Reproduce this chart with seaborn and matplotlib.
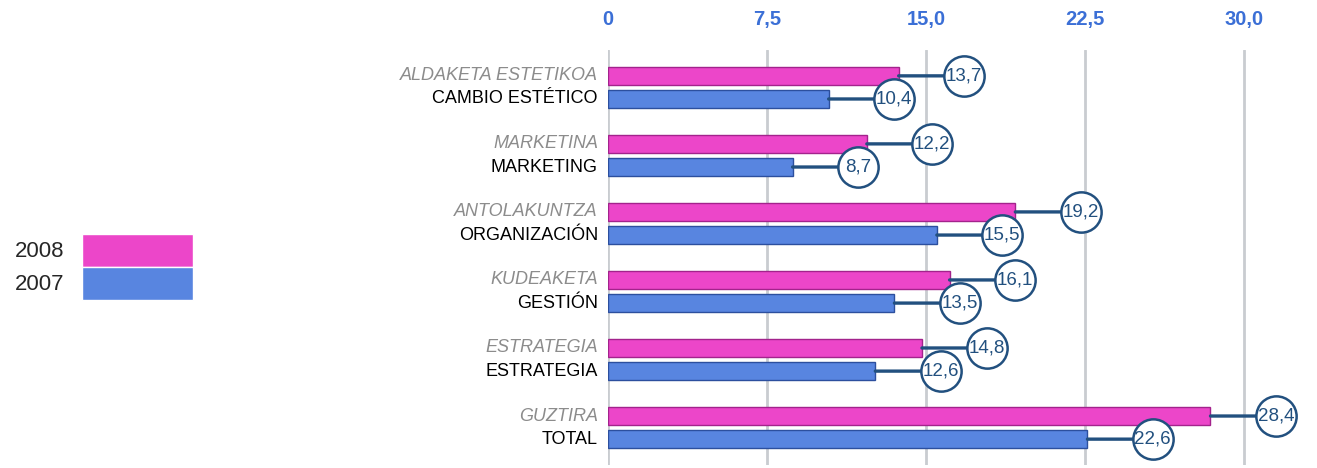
import matplotlib
matplotlib.use("Agg")
import matplotlib.pyplot as plt
import matplotlib.transforms as mtransforms
import seaborn as sns
import pandas as pd

# Data
labels_eu = ['ALDAKETA ESTETIKOA', 'MARKETINA', 'ANTOLAKUNTZA', 'KUDEAKETA', 'ESTRATEGIA', 'GUZTIRA']
labels_es = ['CAMBIO ESTÉTICO', 'MARKETING', 'ORGANIZACIÓN', 'GESTIÓN', 'ESTRATEGIA', 'TOTAL']
values_2008 = [13.7, 12.2, 19.2, 16.1, 14.8, 28.4]
values_2007 = [10.4, 8.7, 15.5, 13.5, 12.6, 22.6]
years = ['2008', '2007']
ticks = [0, 7.5, 15.0, 22.5, 30.0]
tick_labels = ['0', '7,5', '15,0', '22,5', '30,0']

colors = {'2008': '#ec46c9', '2007': '#5885e0'}
edges = {'2008': '#a3238c', '2007': '#2c4f9e'}
navy = '#22507f'

df = pd.DataFrame({
    'cat': labels_es * 2,
    'year': ['2008'] * 6 + ['2007'] * 6,
    'value': values_2008 + values_2007,
})

sns.set_style('white')
plt.rcParams['font.family'] = ['Liberation Sans', 'DejaVu Sans']
fig = plt.figure(figsize=(13.17, 4.68), dpi=100)
ax = fig.add_axes([608 / 1317, 3 / 468, (1272 - 608) / 1317, (465 - 50) / 468])

sns.barplot(data=df, y='cat', x='value', hue='year', hue_order=years,
            palette=colors, saturation=1, orient='h', width=0.68, ax=ax, legend=True)

# thinner bars with darker outline
for cont, yr in zip(ax.containers, years):
    for p in cont:
        h = p.get_height()
        p.set_y(p.get_y() + (h - 0.27) / 2)
        p.set_height(0.27)
        p.set_edgecolor(edges[yr])
        p.set_linewidth(1.0)

ax.set_xlim(0, 31.3)
ax.set_ylim(5.55, -0.55)
ax.set_xticks(ticks)
ax.set_xticklabels(tick_labels)
ax.xaxis.tick_top()
ax.tick_params(axis='x', length=0, pad=15, labelsize=14.5, labelcolor='#3b6fd6')
for t in ax.get_xticklabels():
    t.set_fontweight('bold')
ax.grid(axis='x', color='#c9ccd0', linewidth=2)
ax.set_axisbelow(True)
ax.set_yticks([])
ax.set_xlabel('')
ax.set_ylabel('')
for s in ax.spines.values():
    s.set_visible(False)

# value labels in circles
off = mtransforms.offset_copy(ax.transData, fig=fig, x=47, y=0, units='points')
for cont, vals in zip(ax.containers, [values_2008, values_2007]):
    for p, v in zip(cont, vals):
        yc = p.get_y() + p.get_height() / 2
        ax.annotate('', xy=(v, yc), xytext=(47, 0), textcoords='offset points',
                    annotation_clip=False,
                    arrowprops=dict(arrowstyle='-', color=navy, lw=2.4,
                                    shrinkA=0, shrinkB=0))
        ax.plot([v], [yc], marker='o', ms=29, mfc='white', mec=navy, mew=1.8,
                transform=off, clip_on=False, zorder=5)
        ax.text(v, yc, f'{v:.1f}'.replace('.', ','), transform=off, ha='center',
                va='center', fontsize=13.5, color=navy, zorder=6)

# two-line category labels
trans = mtransforms.blended_transform_factory(fig.transFigure, ax.transData)
for i, (eu, es) in enumerate(zip(labels_eu, labels_es)):
    ax.text(598 / 1317, i - 0.17, eu, transform=trans, ha='right', va='center',
            fontsize=13, color='#8c8c8c', style='italic')
    ax.text(598 / 1317, i + 0.17, es, transform=trans, ha='right', va='center',
            fontsize=13, color='black')

# legend on the left
handles, lbls = ax.get_legend_handles_labels()
ax.legend_.remove()
fig.legend(handles, lbls, loc='center left', bbox_to_anchor=(-0.004, 0.43),
           frameon=False, markerfirst=False, fontsize=16, handlelength=5.0,
           handleheight=1.9, labelspacing=0.0, handletextpad=0.8)

fig.savefig('out.png', dpi=100)
